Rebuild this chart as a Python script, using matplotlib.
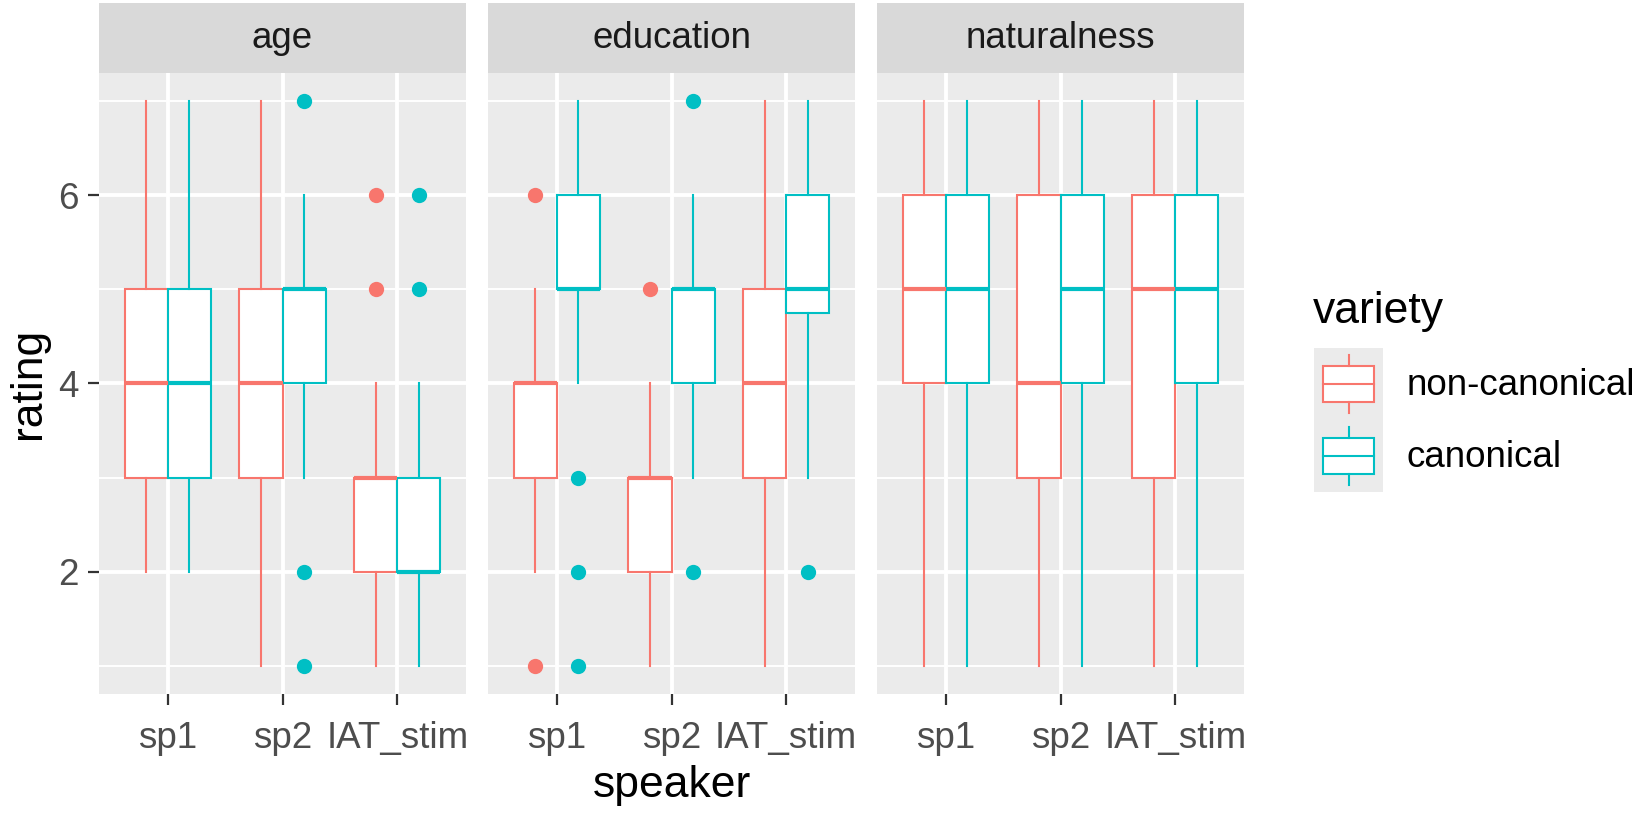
import matplotlib

matplotlib.use("Agg")
import matplotlib.pyplot as plt
import numpy as np
from matplotlib.legend_handler import HandlerBase
from matplotlib.lines import Line2D
from matplotlib.patches import Patch, Rectangle

plt.rcParams["font.family"] = ["Liberation Sans", "DejaVu Sans"]

facets = ["age", "education", "naturalness"]
speakers = ["sp1", "sp2", "IAT_stim"]
varieties = ["non-canonical", "canonical"]

# per speaker: (whisker low, q1, median, q3, whisker high)
age_noncanon = [[2, 3, 4, 5, 7], [1, 3, 4, 5, 7], [1, 2, 3, 3, 4]]
age_canon = [[2, 3, 4, 5, 7], [3, 4, 5, 5, 6], [1, 2, 2, 3, 4]]
age_noncanon_out = [[], [], [5, 6]]
age_canon_out = [[], [7, 2, 1], [5, 6]]

edu_noncanon = [[2, 3, 4, 4, 5], [1, 2, 3, 3, 4], [1, 3, 4, 5, 7]]
edu_canon = [[4, 5, 5, 6, 7], [3, 4, 5, 5, 6], [3, 4.75, 5, 6, 7]]
edu_noncanon_out = [[6, 1], [5], []]
edu_canon_out = [[3, 2, 1], [7, 2], [2]]

nat_noncanon = [[1, 4, 5, 6, 7], [1, 3, 4, 6, 7], [1, 3, 5, 6, 7]]
nat_canon = [[1, 4, 5, 6, 7], [1, 4, 5, 6, 7], [1, 4, 5, 6, 7]]
nat_noncanon_out = [[], [], []]
nat_canon_out = [[], [], []]

RED = "#F8766D"
TEAL = "#00BFC4"
PANEL_BG = "#EBEBEB"
STRIP_BG = "#D9D9D9"
TICK_FS = 26.5
TITLE_FS = 32
BOX_W = 0.375

W, H = 1650, 815


def box_stats(summaries, outliers):
    stats = []
    for (lo, q1, med, q3, hi), out in zip(summaries, outliers):
        stats.append(dict(whislo=lo, q1=q1, med=med, q3=q3, whishi=hi, fliers=out))
    return stats


class BoxKey(HandlerBase):
    # ggplot-like boxplot legend key on a grey background
    def create_artists(self, legend, orig_handle, xdescent, ydescent,
                       width, height, fontsize, trans):
        color = orig_handle.get_edgecolor()
        x0, y0 = -xdescent, -ydescent
        bg = Rectangle((x0, y0), width, height, facecolor=PANEL_BG,
                       edgecolor="none", transform=trans)
        box = Rectangle((x0 + 0.125 * width, y0 + 0.25 * height), 0.75 * width,
                        0.5 * height, facecolor="white", edgecolor=color,
                        linewidth=1.5, transform=trans)
        xm = x0 + 0.5 * width
        med = Line2D([x0 + 0.125 * width, x0 + 0.875 * width],
                     [y0 + 0.5 * height] * 2, color=color, lw=1.5, transform=trans)
        w1 = Line2D([xm, xm], [y0 + 0.1 * height, y0 + 0.25 * height],
                    color=color, lw=1.5, transform=trans)
        w2 = Line2D([xm, xm], [y0 + 0.75 * height, y0 + 0.9 * height],
                    color=color, lw=1.5, transform=trans)
        return [bg, box, med, w1, w2]


fig = plt.figure(figsize=(W / 100, H / 100), dpi=100)

panels = [
    (age_noncanon, age_canon, age_noncanon_out, age_canon_out),
    (edu_noncanon, edu_canon, edu_noncanon_out, edu_canon_out),
    (nat_noncanon, nat_canon, nat_noncanon_out, nat_canon_out),
]
lefts = [99, 488, 877]
pw = 367
top, bottom = 73, 694
strip_top = 3

x = np.arange(1, len(speakers) + 1)
for i, (facet, (nc, c, nc_out, c_out)) in enumerate(zip(facets, panels)):
    ax = fig.add_axes([lefts[i] / W, 1 - bottom / H, pw / W, (bottom - top) / H])
    ax.set_facecolor(PANEL_BG)
    for summ, out, offset, color in [(nc, nc_out, -BOX_W / 2, RED),
                                     (c, c_out, BOX_W / 2, TEAL)]:
        ax.bxp(box_stats(summ, out), positions=x + offset, widths=BOX_W,
               patch_artist=True, showcaps=False, manage_ticks=False,
               boxprops=dict(facecolor="white", edgecolor=color, linewidth=1.5),
               whiskerprops=dict(color=color, linewidth=1.5),
               medianprops=dict(color=color, linewidth=3, solid_capstyle="butt"),
               flierprops=dict(marker="o", markerfacecolor=color,
                               markeredgecolor="none", markersize=11))
    ax.set_xlim(0.4, 3.6)
    ax.set_ylim(0.7, 7.3)
    ax.set_xticks(x, speakers)
    ax.set_yticks([2, 4, 6])
    ax.set_yticks([1, 3, 5, 7], minor=True)
    ax.grid(which="major", color="white", linewidth=2.8)
    ax.grid(which="minor", axis="y", color="white", linewidth=1.4)
    ax.set_axisbelow(True)
    for s in ax.spines.values():
        s.set_visible(False)
    ax.tick_params(which="major", length=8.25, width=1.6, color="#333333",
                   labelsize=TICK_FS, labelcolor="#4D4D4D", pad=6.6)
    ax.tick_params(axis="x", which="major", pad=11)
    ax.tick_params(which="minor", length=0)
    if i > 0:
        ax.tick_params(axis="y", left=False, labelleft=False)

    sax = fig.add_axes([lefts[i] / W, 1 - top / H, pw / W, (top - strip_top) / H])
    sax.set_facecolor(STRIP_BG)
    sax.set_xticks([])
    sax.set_yticks([])
    for s in sax.spines.values():
        s.set_visible(False)
    sax.text(0.5, 0.5, facet, ha="center", va="center", fontsize=TICK_FS,
             color="#1A1A1A", transform=sax.transAxes)

fig.text(28 / W, 1 - 383.5 / H, "rating", rotation=90, ha="center", va="center",
         fontsize=TITLE_FS)
fig.text(671.5 / W, 1 - 785 / H, "speaker", ha="center", va="center",
         fontsize=TITLE_FS)

# legend
fig.text(1313 / W, 1 - 312 / H, "variety", ha="left", va="center",
         fontsize=TITLE_FS)
handles = [Patch(edgecolor=RED, facecolor="white", label=varieties[0]),
           Patch(edgecolor=TEAL, facecolor="white", label=varieties[1])]
fig.legend(handles=handles, handler_map={Patch: BoxKey()},
           loc="upper left", bbox_to_anchor=(1314 / W, 1 - 348 / H),
           frameon=False, fontsize=TICK_FS, borderpad=0, borderaxespad=0,
           labelspacing=0, handlelength=1.875, handleheight=2.63,
           handletextpad=0.65)

fig.savefig("out.png", dpi=100)
